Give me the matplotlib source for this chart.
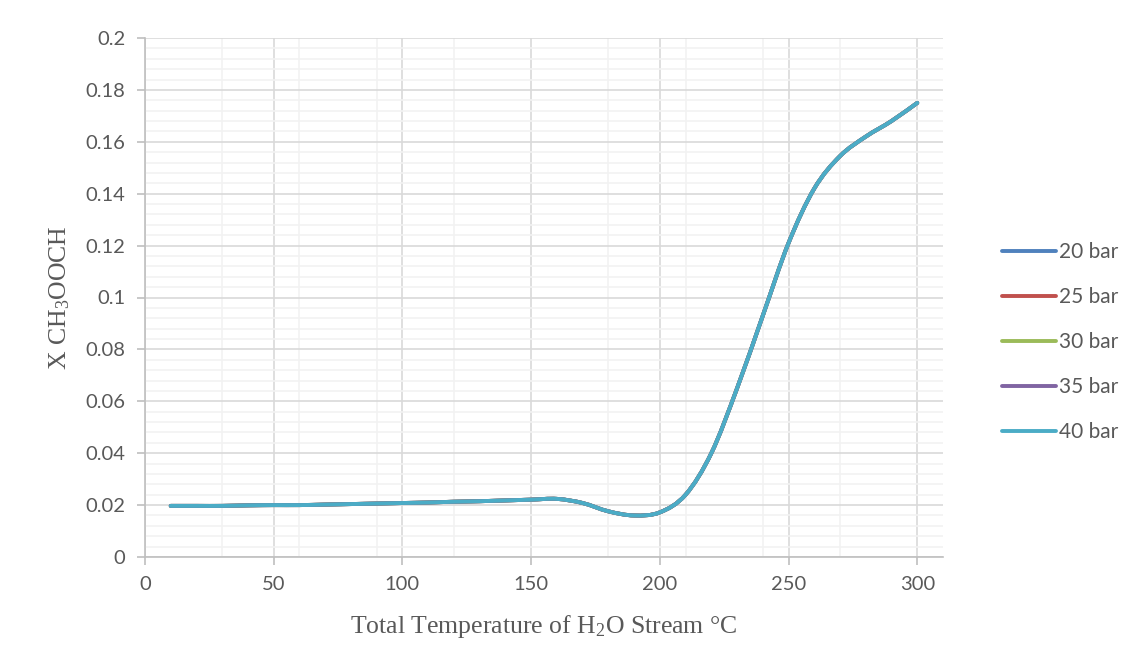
import numpy as np
import matplotlib.pyplot as plt
from matplotlib.path import Path
from matplotlib.patches import PathPatch
from matplotlib.lines import Line2D
from matplotlib.ticker import MultipleLocator

# temperature of the H2O stream (deg C)
temp = [10, 20, 30, 40, 50, 60, 70, 80, 90, 100, 110, 120, 130, 140, 150,
        160, 170, 180, 190, 200, 210, 220, 230, 240, 250, 260, 270, 280, 290, 300]
# mole fraction (all pressures overlap)
x_20 = [0.0197, 0.0197, 0.0197, 0.0199, 0.0200, 0.0200, 0.0202, 0.0204, 0.0206, 0.0208,
        0.0210, 0.0213, 0.0215, 0.0218, 0.0221, 0.0224, 0.0208, 0.0176, 0.0160, 0.0172,
        0.0240, 0.0400, 0.0650, 0.0930, 0.1210, 0.1420, 0.1545, 0.1620, 0.1680, 0.1750]
x_25 = list(x_20)
x_30 = list(x_20)
x_35 = list(x_20)
x_40 = list(x_20)

labels = ['20 bar', '25 bar', '30 bar', '35 bar', '40 bar']
colors = ['#4F81BD', '#C0504D', '#9BBB59', '#8064A2', '#4BACC6']
series = [x_20, x_25, x_30, x_35, x_40]

xticks = [0, 50, 100, 150, 200, 250, 300]
yticks = [0, 0.02, 0.04, 0.06, 0.08, 0.1, 0.12, 0.14, 0.16, 0.18, 0.2]
ytick_labels = ['0', '0.02', '0.04', '0.06', '0.08', '0.1', '0.12', '0.14',
                '0.16', '0.18', '0.2']


def smooth_path(xs, ys):
    # excel style smoothed line: cubic bezier segments through the points
    xs = np.asarray(xs, float)
    ys = np.asarray(ys, float)
    n = len(xs)
    verts = [(xs[0], ys[0])]
    codes = [Path.MOVETO]
    for i in range(n - 1):
        p0 = i - 1 if i > 0 else i
        p3 = i + 2 if i + 2 < n else i + 1
        c1 = (xs[i] + (xs[i + 1] - xs[p0]) / 6, ys[i] + (ys[i + 1] - ys[p0]) / 6)
        c2 = (xs[i + 1] - (xs[p3] - xs[i]) / 6, ys[i + 1] - (ys[p3] - ys[i]) / 6)
        verts += [c1, c2, (xs[i + 1], ys[i + 1])]
        codes += [Path.CURVE4] * 3
    return Path(verts, codes)


fig = plt.figure(figsize=(11.46, 6.71), dpi=100)
ax = fig.add_axes([145 / 1146, 1 - 557 / 671, (943 - 145) / 1146, (557 - 38) / 671])

handles = []
for ys, lab, col in zip(series, labels, colors):
    patch = PathPatch(smooth_path(temp, ys), facecolor='none', edgecolor=col,
                      lw=2.8, capstyle='round', joinstyle='round', zorder=3)
    ax.add_patch(patch)
    handles.append(Line2D([], [], color=col, lw=2.8, solid_capstyle='round'))

ax.set_xlim(0, 310)
ax.set_ylim(0, 0.2)
ax.set_xticks(xticks)
ax.set_xticklabels([str(v) for v in xticks])
ax.set_yticks(yticks)
ax.set_yticklabels(ytick_labels)
ax.xaxis.set_minor_locator(MultipleLocator(30))
ax.yaxis.set_minor_locator(MultipleLocator(0.004))

ax.grid(which='major', color='#d9d9d9', lw=1.2)
ax.grid(which='minor', color='#f2f2f2', lw=1.2)
ax.set_axisbelow(True)
for s in ['top', 'right']:
    ax.spines[s].set_visible(False)
for s in ['left', 'bottom']:
    ax.spines[s].set_color('#bfbfbf')
    ax.spines[s].set_linewidth(1.2)
ax.tick_params(which='major', length=6, width=1.2, color='#bfbfbf',
               labelsize=14.5, labelcolor='#595959', pad=8)
ax.tick_params(which='minor', length=0)
for t in ax.get_xticklabels() + ax.get_yticklabels():
    t.set_fontfamily('Lato')

ax.set_xlabel(r'Total Temperature of H$\mathregular{_2}$O Stream °C', family='Liberation Serif',
              fontsize=18.5, color='#595959', labelpad=14)
ax.set_ylabel(r'X CH$\mathregular{_3}$OOCH', family='Liberation Serif',
              fontsize=18.5, color='#595959', labelpad=10)

leg = fig.legend(handles, labels, loc='center left', bbox_to_anchor=(1002 / 1146, 1 - 342 / 671),
                 frameon=False, prop={'family': 'Lato', 'size': 15}, handlelength=2.6,
                 handletextpad=0.15, labelspacing=1.2, borderpad=0, borderaxespad=0)
for t in leg.get_texts():
    t.set_color('#595959')

fig.savefig('out.png', dpi=100)
